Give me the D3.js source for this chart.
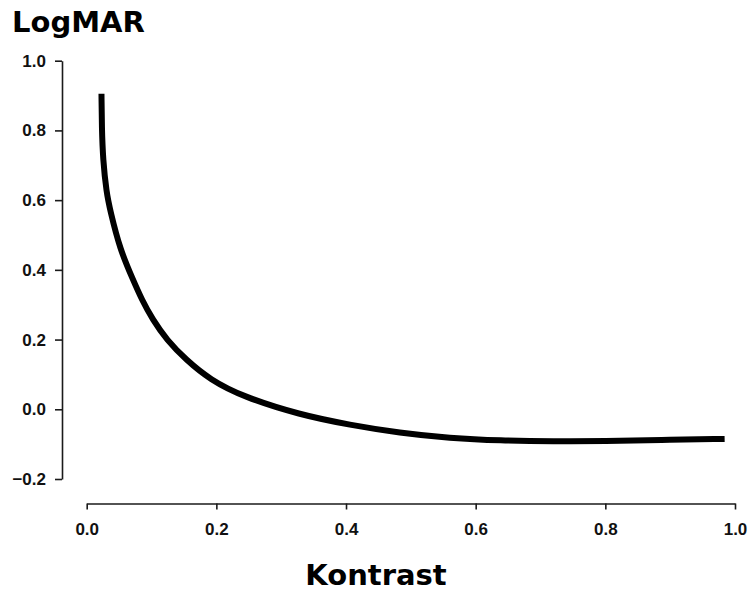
<!DOCTYPE html>
<html>
<head>
<meta charset="utf-8">
<script src="https://cdn.jsdelivr.net/npm/d3@7"></script>
<style>
  html, body { margin: 0; padding: 0; background: #fff; }
  svg { display: block; }
</style>
</head>
<body>
<script>
// Data
const contrast = [0.0228, 0.0233, 0.0251, 0.0305, 0.036, 0.0514, 0.0714, 0.0848, 0.1018, 0.1234, 0.1532, 0.1902, 0.2411, 0.329, 0.406, 0.483, 0.560, 0.638, 0.720, 0.800, 0.884, 0.984];
const logmar   = [0.905, 0.810, 0.716, 0.622, 0.572, 0.458, 0.372, 0.315, 0.257, 0.199, 0.142, 0.085, 0.036, -0.016, -0.045, -0.068, -0.083, -0.090, -0.092, -0.091, -0.088, -0.085];
const xTicks = [0, 0.2, 0.4, 0.6, 0.8, 1.0];
const yTicks = [-0.2, 0, 0.2, 0.4, 0.6, 0.8, 1.0];
const yTitle = "LogMAR";
const xTitle = "Kontrast";

const W = 751, H = 591;
const svg = d3.select("body").append("svg").attr("width", W).attr("height", H);

const x = d3.scaleLinear().domain([0, 1]).range([86.7, 735]);
const y = d3.scaleLinear().domain([-0.2, 1]).range([479, 60.7]);

const fmt = d => d < 0 ? "\u2212" + Math.abs(d).toFixed(1) : d.toFixed(1);

// Y axis
const gy = svg.append("g").attr("transform", "translate(62,0)")
  .call(d3.axisLeft(y).tickValues(yTicks).tickFormat(fmt).tickSize(7).tickSizeOuter(0).tickPadding(9));
// X axis
const gx = svg.append("g").attr("transform", "translate(0,503.5)")
  .call(d3.axisBottom(x).tickValues(xTicks).tickFormat(fmt).tickSize(6).tickSizeOuter(0).tickPadding(13));

[gy, gx].forEach(g => {
  g.select(".domain").attr("stroke", "#1a1a1a").attr("stroke-width", 1.6);
  g.selectAll(".tick line").attr("stroke", "#1a1a1a").attr("stroke-width", 1.6);
  g.selectAll(".tick text")
    .attr("fill", "#111")
    .style("font-family", "'Liberation Sans', Arial, sans-serif")
    .style("font-weight", "bold")
    .style("font-size", "17px");
});

// Curve
const pts = contrast.map((c, i) => [c, logmar[i]]);
const line = d3.line()
  .x(d => x(d[0]))
  .y(d => y(d[1]))
  .curve(d3.curveBasis);
svg.append("path")
  .datum(pts)
  .attr("d", line)
  .attr("fill", "none")
  .attr("stroke", "#000")
  .attr("stroke-width", 6)
  .attr("stroke-linecap", "butt");

// Titles
svg.append("text")
  .attr("x", 12).attr("y", 32)
  .style("font-family", "'DejaVu Sans', Verdana, sans-serif")
  .style("font-weight", "bold")
  .style("font-size", "29px")
  .attr("fill", "#000")
  .text(yTitle);

svg.append("text")
  .attr("x", 376).attr("y", 585)
  .attr("text-anchor", "middle")
  .style("font-family", "'DejaVu Sans', Verdana, sans-serif")
  .style("font-weight", "bold")
  .style("font-size", "29px")
  .attr("fill", "#000")
  .text(xTitle);
</script>
</body>
</html>
